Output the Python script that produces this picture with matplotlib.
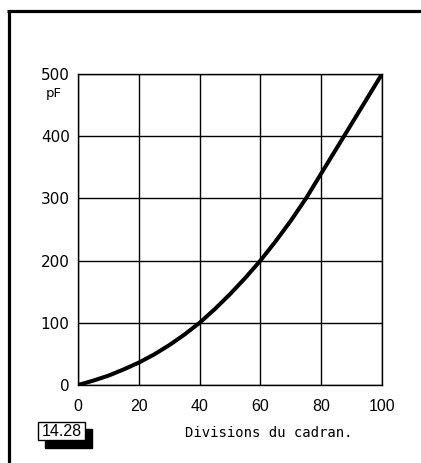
import matplotlib.pyplot as plt
from matplotlib.lines import Line2D
from matplotlib.patches import Rectangle

# divisions du cadran -> capacité (pF)
divisions = [0, 5, 10, 15, 20, 25, 30, 35, 40, 45, 50, 55, 60, 65, 70, 75, 80, 85, 90, 95, 100]
capacite = [0, 7, 15, 25, 36, 49, 64, 81, 100, 122, 146, 172, 200, 231, 264, 300, 340, 380, 420, 460, 500]
x_ticks = [0, 20, 40, 60, 80, 100]
y_ticks = [0, 100, 200, 300, 400, 500]

W, H = 421, 463
plt.rcParams['font.family'] = ['Liberation Sans', 'DejaVu Sans']
fig = plt.figure(figsize=(W / 100, H / 100), dpi=100)

# cadre de la page (trait épais en haut et à gauche)
fig.add_artist(Line2D([7 / W, 1], [1 - 11 / H, 1 - 11 / H], color='black', lw=2.3,
                      transform=fig.transFigure, solid_capstyle='butt'))
fig.add_artist(Line2D([9 / W, 9 / W], [0, 1 - 11 / H], color='black', lw=2.3,
                      transform=fig.transFigure, solid_capstyle='butt'))

ax = fig.add_axes([78 / W, 1 - 385 / H, 304 / W, 311 / H])
ax.plot(divisions, capacite, color='black', lw=2.9, solid_capstyle='round')
ax.set_xlim(0, 100)
ax.set_ylim(0, 500)
ax.set_xticks(x_ticks)
ax.set_yticks(y_ticks)
ax.grid(True, color='black', lw=1.0)
for s in ax.spines.values():
    s.set_linewidth(1.0)
ax.tick_params(axis='x', length=0, pad=10, labelsize=11.5)
ax.tick_params(axis='y', length=0, pad=6)
for lab in ax.get_yticklabels():
    lab.set_family('DejaVu Sans')
    lab.set_fontsize(11)

# unité
fig.text(62 / W, 1 - 97 / H, 'pF', family='DejaVu Sans', fontsize=9.5,
         ha='right', va='baseline')

fig.text(269 / W, 1 - 433 / H, 'Divisions du cadran.', family='DejaVu Sans Mono',
         fontsize=10, ha='center', va='center')

# numéro de figure dans un cadre ombré
fig.add_artist(Rectangle((45 / W, 1 - 448 / H), 47 / W, 19 / H, transform=fig.transFigure,
                         facecolor='black', edgecolor='black'))
fig.add_artist(Rectangle((37.5 / W, 1 - 440 / H), 47.5 / W, 18 / H, transform=fig.transFigure,
                         facecolor='white', edgecolor='black', lw=1.0))
fig.text(62 / W, 1 - 431 / H, '14.28', fontsize=11.5, ha='center', va='center')

fig.savefig('out.png', dpi=100)
